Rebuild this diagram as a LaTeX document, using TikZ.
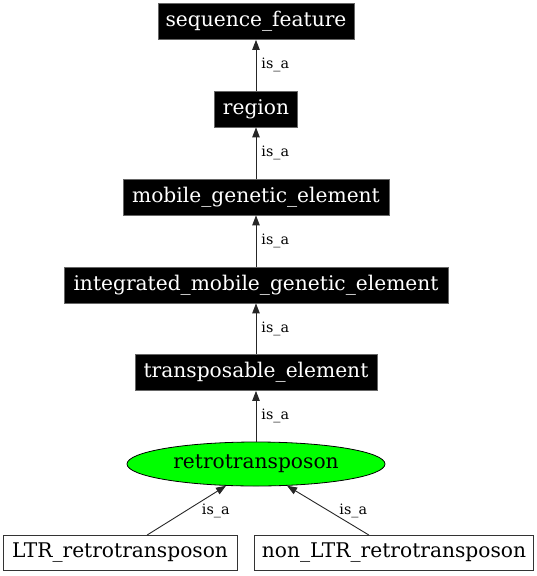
\documentclass[tikz,border=0pt]{standalone}
\usepackage{fontspec}
\setmainfont{DejaVu Serif}
\usetikzlibrary{arrows.meta,shapes.geometric}
\definecolor{nodegreen}{RGB}{0,255,0}
\tikzset{
  blackbox/.style={rectangle, fill=black, draw=black!60, line width=0.8pt, text=white, inner sep=0pt, minimum height=36pt, font=\fontsize{20.2}{22}\selectfont},
  whitebox/.style={rectangle, fill=white, draw=black!80, line width=0.8pt, text=black, inner sep=0pt, minimum height=35pt, font=\fontsize{20.2}{22}\selectfont},
  greenell/.style={ellipse, fill=nodegreen, draw=black, line width=0.8pt, inner sep=0pt, minimum width=258pt, minimum height=44pt, font=\fontsize{20.2}{22}\selectfont},
  edge/.style={draw=black!85, line width=0.9pt, -{Triangle[length=10pt,width=7.5pt]}},
  elabel/.style={font=\fontsize{14.3}{16}\selectfont, inner sep=0pt, text=black}
}
\begin{document}
\begin{tikzpicture}[x=1pt,y=-1pt]
\useasboundingbox (0,0) rectangle (537,576);
\node[blackbox, minimum width=196pt] (sf) at (256,21.5) {sequence\_feature};
\node[blackbox, minimum width=83pt] (reg) at (256,109) {region};
\node[blackbox, minimum width=266pt] (mge) at (256,197) {mobile\_genetic\_element};
\node[blackbox, minimum width=384pt] (imge) at (256,285) {integrated\_mobile\_genetic\_element};
\node[blackbox, minimum width=242pt] (te) at (256,372.5) {transposable\_element};
\node[greenell] (rt) at (256,464) {retrotransposon};
\node[whitebox, minimum width=234pt] (ltr) at (120,553) {LTR\_retrotransposon};
\node[whitebox, minimum width=279pt] (nltr) at (394,553) {non\_LTR\_retrotransposon};

\draw[edge] (reg) -- node[elabel, right=5pt] {is\_a} (sf);
\draw[edge] (mge) -- node[elabel, right=5pt] {is\_a} (reg);
\draw[edge] (imge) -- node[elabel, right=5pt] {is\_a} (mge);
\draw[edge] (te) -- node[elabel, right=5pt] {is\_a} (imge);
\draw[edge] (rt) -- node[elabel, right=5pt] {is\_a} (te);
\draw[edge] ([xshift=27pt]ltr.north) -- node[elabel, right=15pt] {is\_a} (rt.216);
\draw[edge] ([xshift=-25pt]nltr.north) -- node[elabel, right=11pt] {is\_a} (rt.325);
\end{tikzpicture}
\end{document}
